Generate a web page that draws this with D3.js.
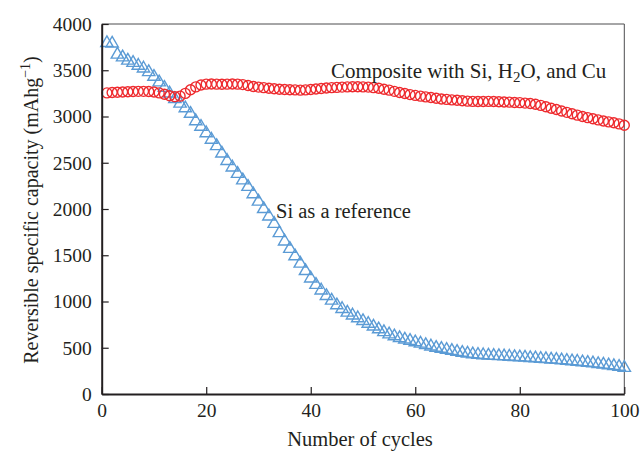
<!DOCTYPE html>
<html>
<head>
<meta charset="utf-8">
<script src="https://cdn.jsdelivr.net/npm/d3@7"></script>
<style>
  html, body { margin: 0; padding: 0; background: #fff; }
  svg { display: block; }
</style>
</head>
<body>
<div id="chart"></div>
<script>
// ---- Data ----
const cycles = d3.range(1, 101);

const siReference = [
  3795, 3790, 3670, 3640, 3605, 3580, 3550, 3520, 3480, 3430,
  3370, 3310, 3250, 3190, 3140, 3090, 3030, 2950, 2890, 2820,
  2750, 2680, 2600, 2520, 2450, 2380, 2310, 2240, 2160, 2080,
  2000, 1920, 1840, 1740, 1650, 1570, 1490, 1410, 1330, 1250,
  1180, 1120, 1060, 1010, 960, 920, 880, 850, 820, 790,
  760, 730, 700, 670, 645, 625, 605, 590, 575, 560,
  545, 530, 515, 500, 490, 478, 467, 456, 446, 437,
  430, 425, 420, 416, 413, 410, 407, 404, 401, 398,
  394, 390, 386, 382, 378, 374, 370, 365, 360, 355,
  350, 344, 338, 332, 325, 318, 311, 303, 295, 283
];

const composite = [
  3255, 3260, 3262, 3265, 3268, 3270, 3272, 3272, 3270, 3265,
  3255, 3240, 3225, 3215, 3220, 3250, 3290, 3320, 3340, 3350,
  3352, 3350, 3348, 3350, 3352, 3350, 3345, 3335, 3325, 3318,
  3312, 3305, 3300, 3295, 3292, 3290, 3288, 3285, 3288, 3292,
  3298, 3303, 3308, 3312, 3315, 3318, 3320, 3322, 3322, 3320,
  3318, 3312, 3305, 3295, 3285, 3272, 3260, 3248, 3237, 3228,
  3220, 3212, 3205, 3198, 3190, 3185, 3180, 3175, 3170, 3166,
  3163, 3162, 3162, 3163, 3162, 3160, 3157, 3155, 3152, 3150,
  3145, 3140, 3132, 3120, 3105, 3090, 3075, 3060, 3045, 3030,
  3015, 3000, 2988, 2975, 2963, 2952, 2942, 2932, 2920, 2905
];

const xTicks = [0, 20, 40, 60, 80, 100];
const yTicks = [0, 500, 1000, 1500, 2000, 2500, 3000, 3500, 4000];

// ---- Layout ----
const W = 642, H = 454;
const margin = { left: 101.7, right: W - 624.3, top: 24, bottom: H - 394 };
const FONT = "'Liberation Serif', 'Times New Roman', 'DejaVu Serif', serif";
const INK = "#231f20";

const svg = d3.select("#chart").append("svg")
  .attr("width", W).attr("height", H)
  .style("font-family", FONT);

const x = d3.scaleLinear().domain([0, 100]).range([margin.left, W - margin.right]);
const y = d3.scaleLinear().domain([0, 4000]).range([H - margin.bottom, margin.top]);

// frame: top and right thin lines
svg.append("line")
  .attr("x1", x(0)).attr("x2", x(100)).attr("y1", y(4000)).attr("y2", y(4000))
  .attr("stroke", "#4d4d4f").attr("stroke-width", 1);
svg.append("line")
  .attr("x1", x(100)).attr("x2", x(100)).attr("y1", y(4000)).attr("y2", y(0))
  .attr("stroke", "#4d4d4f").attr("stroke-width", 1);

// ---- Series ----
const blue = "#5b9bd5";
const red = "#ee2a2e";

const tri = d3.symbol().type(d3.symbolTriangle).size(66);
svg.append("g")
  .selectAll("path")
  .data(cycles)
  .join("path")
  .attr("d", tri)
  .attr("transform", (c, i) => `translate(${x(c)},${y(siReference[i])})`)
  .attr("fill", "none")
  .attr("stroke", blue)
  .attr("stroke-width", 1.4);

svg.append("g")
  .selectAll("circle")
  .data(cycles)
  .join("circle")
  .attr("cx", c => x(c))
  .attr("cy", (c, i) => y(composite[i]))
  .attr("r", 5)
  .attr("fill", "none")
  .attr("stroke", red)
  .attr("stroke-width", 1.4);

// ---- Axes ----
const fmt = d3.format("d");
const xAxis = d3.axisBottom(x).tickValues(xTicks).tickFormat(fmt).tickSizeInner(-7).tickSizeOuter(0);
const yAxis = d3.axisLeft(y).tickValues(yTicks).tickFormat(fmt).tickSizeInner(-7).tickSizeOuter(0);

const gx = svg.append("g").attr("transform", `translate(0,${y(0)})`).call(xAxis);
const gy = svg.append("g").attr("transform", `translate(${x(0)},0)`).call(yAxis);

[gx, gy].forEach(g => {
  g.attr("font-family", null).attr("font-size", null);
  g.select(".domain").attr("stroke", INK).attr("stroke-width", 2);
  g.selectAll(".tick line").attr("stroke", INK).attr("stroke-width", 1.2);
  g.selectAll(".tick text")
    .style("font-family", FONT)
    .style("font-size", "19.5px").attr("fill", INK);
});
gy.selectAll(".tick text").attr("x", -10);
gx.selectAll(".tick text").attr("y", 9);

// axis titles
svg.append("text")
  .attr("x", 360).attr("y", 446)
  .attr("text-anchor", "middle").style("font-size", "20.5px").attr("fill", INK)
  .text("Number of cycles");

const yl = svg.append("text")
  .attr("transform", "translate(38,210) rotate(-90)")
  .attr("text-anchor", "middle").style("font-size", "20px").attr("fill", INK);
yl.append("tspan").text("Reversible specific capacity (mAhg");
yl.append("tspan").attr("dy", -8).style("font-size", "14px").text("\u22121");
yl.append("tspan").attr("dy", 8).text(")");

// series labels
const cl = svg.append("text")
  .attr("x", 331).attr("y", 78).style("font-size", "21px").attr("fill", INK);
cl.append("tspan").text("Composite with Si, H");
cl.append("tspan").attr("dy", 4).style("font-size", "15px").text("2");
cl.append("tspan").attr("dy", -4).text("O, and Cu");

svg.append("text")
  .attr("x", 276).attr("y", 218).style("font-size", "20.5px").attr("fill", INK)
  .text("Si as a reference");
</script>
</body>
</html>
